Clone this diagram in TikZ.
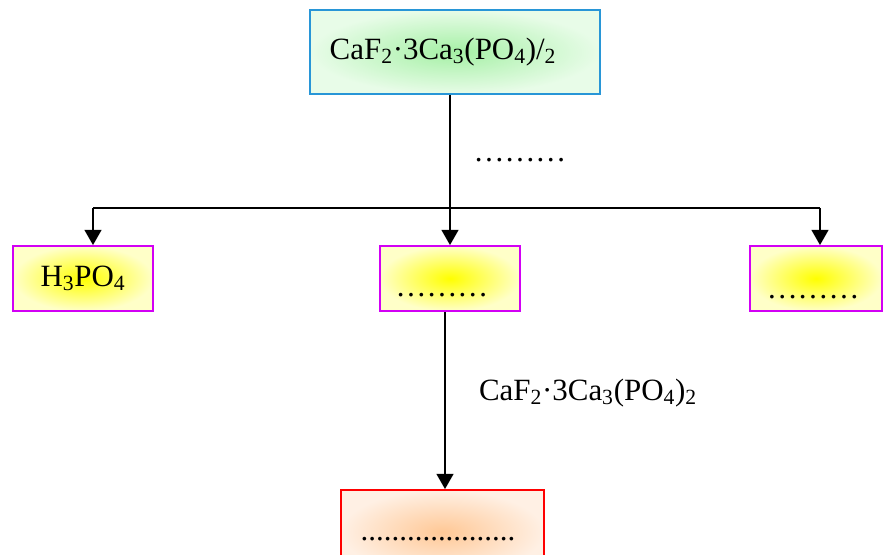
\documentclass[tikz,border=0pt]{standalone}
\usepackage{fontspec}
\setmainfont{Liberation Serif}
\usetikzlibrary{arrows.meta}

\definecolor{azulBorde}{RGB}{40,150,215}
\definecolor{verdeCentro}{RGB}{165,240,165}
\definecolor{verdeFondo}{RGB}{232,252,232}
\definecolor{violeta}{RGB}{210,0,245}
\definecolor{amarilloCentro}{RGB}{255,255,0}
\definecolor{amarilloFondo}{RGB}{255,255,200}
\definecolor{naranjaCentro}{RGB}{255,200,150}
\definecolor{naranjaFondo}{RGB}{255,240,228}

\tikzset{
  caja/.style={draw, line width=1.3pt, inner sep=0pt},
  cajaVerde/.style={caja, draw=azulBorde, inner color=verdeCentro, outer color=verdeFondo},
  cajaAmarilla/.style={caja, draw=violeta, minimum height=1.625cm, inner color=amarilloCentro, outer color=amarilloFondo},
  cajaNaranja/.style={caja, draw=red, inner color=naranjaCentro, outer color=naranjaFondo}
}

\begin{document}
\begin{tikzpicture}[font=\fontsize{22}{26}\selectfont, line width=1.4pt,
                    >={Triangle[width=0.42cm,length=0.38cm]}]
    \useasboundingbox (0,0) rectangle (22.075,13.85);
    \clip (0,0) rectangle (22.075,13.85);

    % --- Materia prima arriba ---
    \node[cajaVerde, minimum width=7.25cm, minimum height=2.1cm] (Mineral) at (11.375,12.55)
          {CaF\textsubscript{2}·3Ca\textsubscript{3}(PO\textsubscript{4})/\textsubscript{2}\hspace*{0.6cm}};

    % --- Productos intermedios (fila central) ---
    \node[cajaAmarilla, minimum width=3.5cm] (Acido) at (2.075,6.8875) {H\textsubscript{3}PO\textsubscript{4}};
    \node[cajaAmarilla, minimum width=3.5cm] (Medio) at (11.25,6.8875) {};
    \node[cajaAmarilla, minimum width=3.3cm] (Derecha) at (20.4,6.8875) {};
    \node[anchor=base] (MedioTxt) at (11.05,6.425) {………};
    \node[anchor=base] (DerechaTxt) at (20.33,6.375) {………};

    % --- Producto final (cortado por abajo) ---
    \node[cajaNaranja, minimum width=5.075cm, minimum height=2.1cm] (Final) at (11.0625,0.55) {};
    \node[anchor=base] (FinalTxt) at (10.95,0.325) {....................};

    % --- Ramas de la reparticion ---
    \coordinate (RamaIzq) at (2.325,8.65);
    \coordinate (RamaDer) at (20.5,8.65);
    \draw (RamaIzq) -- (RamaDer);
    \draw[->] (RamaIzq) -- (RamaIzq |- Acido.north);
    \draw[->] (RamaDer) -- (RamaDer |- Derecha.north);
    \draw[->] (Mineral.south -| Medio.north) -- (Medio.north);
    \draw[->] ([xshift=-0.125cm]Medio.south) -- ([xshift=-0.125cm]Medio.south |- Final.north);

    % --- Etiquetas de las flechas ---
    \node (Paso1) at (13.0,9.85) {………};
    \node (Paso2) at (14.7,4.025) {CaF\textsubscript{2}·3Ca\textsubscript{3}(PO\textsubscript{4})\textsubscript{2}};
\end{tikzpicture}
\end{document}
